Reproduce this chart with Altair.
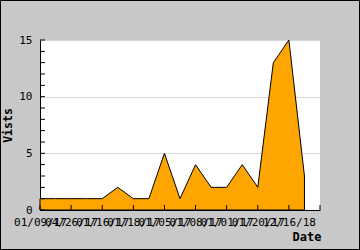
import json
import altair as alt
import pandas as pd

# data
visits = [1, 1, 1, 1, 1, 2, 1, 1, 5, 1, 4, 2, 2, 4, 2, 13, 15, 3]
tick_labels = ["01/09/17", "04/26/17", "01/16/17", "01/18/17", "01/05/17",
               "01/08/17", "01/01/17", "01/20/17", "12/16/18"]
x_ticks = list(range(0, 20, 2))
y_minor = list(range(0, 16))
y_major = [0, 5, 10, 15]

df = pd.DataFrame({"i": list(range(len(visits))), "v": visits})
xt = pd.DataFrame({"t": x_ticks})
yt = pd.DataFrame({"t": y_minor})

FONT = "DejaVu Sans Mono"
W, H = 280, 170

xscale = alt.Scale(domain=[0, 18], nice=False, zero=False)
yscale = alt.Scale(domain=[0, 15], nice=False)

label_expr = json.dumps(tick_labels) + "[datum.value / 2] || ''"

area = alt.Chart(df).mark_area(
    color="#FFA500", stroke="black", strokeWidth=1, opacity=1
).encode(
    x=alt.X("i:Q", scale=xscale,
            axis=alt.Axis(values=x_ticks, labelExpr=label_expr, ticks=False, tickSize=0,
                          grid=False, domainColor="black", labelOverlap=False,
                          labelFont=FONT, labelFontSize=11, labelColor="black",
                          labelPadding=6, labelFlush=False,
                          title="Date", titleFont=FONT, titleFontSize=12,
                          titleFontWeight="bold", titleColor="black",
                          titleAlign="right", titleX=281, titleY=30,
                          titleBaseline="alphabetic")),
    y=alt.Y("v:Q", scale=yscale,
            axis=alt.Axis(values=y_major, ticks=False, tickSize=0, grid=True,
                          gridColor="#d8d8d8", domainColor="black",
                          labelFont=FONT, labelFontSize=11, labelColor="black",
                          labelPadding=8,
                          title="Vists", titleFont=FONT, titleFontSize=11.5,
                          titleFontWeight="bold", titleColor="black",
                          titleAngle=270, titleX=-27, titleY=85,
                          titleAlign="center", titleBaseline="bottom")),
)

xticks = alt.Chart(xt).mark_rule(color="black", strokeWidth=1).encode(
    x=alt.X("t:Q", scale=xscale, axis=None),
    y=alt.value(H), y2=alt.value(H - 5),
)

yticks = alt.Chart(yt).mark_rule(color="black", strokeWidth=1).encode(
    y=alt.Y("t:Q", scale=yscale, axis=None),
    x=alt.value(0), x2=alt.value(5),
)

frame = alt.Chart(pd.DataFrame({"a": [0]})).mark_rect(
    fill="white", fillOpacity=0, stroke="black", strokeWidth=1
).encode(
    x=alt.value(-39.5), x2=alt.value(W + 39.5),
    y=alt.value(-39.5), y2=alt.value(H + 39.5),
)

chart = alt.layer(area, xticks, yticks, frame).resolve_axis(
    x="independent", y="independent"
).properties(
    width=W, height=H,
    background="#C8C8C8",
    padding={"left": 40, "top": 40, "right": 40, "bottom": 40},
    autosize=alt.AutoSizeParams(type="none"),
).configure_view(fill="white", stroke=None)

chart.save("out.html", embed_options={"renderer": "svg", "actions": False})
